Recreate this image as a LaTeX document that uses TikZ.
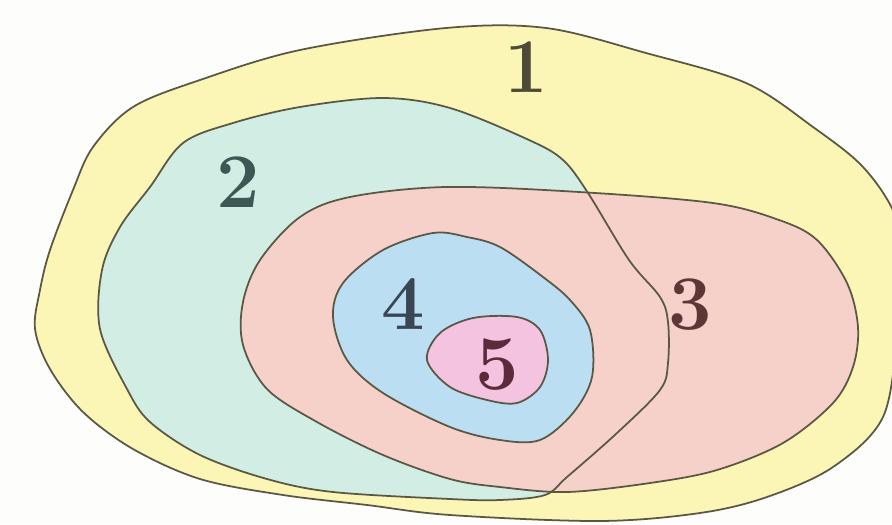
\documentclass[tikz,border=0pt]{standalone}
\usepackage{tikz}

\definecolor{setone}{HTML}{FBF5B6}
\definecolor{settwo}{HTML}{D2EDE3}
\definecolor{setthree}{HTML}{F6D1C9}
\definecolor{setfour}{HTML}{BCDEF2}
\definecolor{setfive}{HTML}{F3C3E0}
\definecolor{rim}{HTML}{5A5744}
\definecolor{paper}{HTML}{FDFDFB}
\definecolor{inkone}{HTML}{4E4A37}
\definecolor{inktwo}{HTML}{3D5754}
\definecolor{inkthree}{HTML}{5E3636}
\definecolor{inkfour}{HTML}{3B4655}
\definecolor{inkfive}{HTML}{5C2A3A}

\begin{document}
\begin{tikzpicture}[x=0.02cm, y=-0.02cm,
    blob/.style={draw=rim, line width=1pt, smooth cycle, tension=0.55},
    num/.style={inner sep=0pt, font=\fontsize{44}{44}\selectfont\bfseries}]

    % Frame (pixel grid of the reference)
    \fill[paper] (0,0) rectangle (892,524);
    \useasboundingbox (0,0) rectangle (892,524);
    \clip (0,0) rectangle (892,524);

    % Set 1 (outer)
    \fill[setone] plot[smooth cycle, tension=0.55] coordinates {(546,28) (646,53) (746,83) (813,127) (863,167) (895,215) (904,270) (898,330) (883,417) (833,467) (767,497) (700,513) (600,521) (450,515) (367,505) (283,495) (200,479) (133,449) (83,412) (50,369) (35,329) (40,290) (50,250) (73,190) (93,147) (133,107) (200,80) (300,50) (446,28)};

    % Set 2
    \fill[settwo] plot[smooth cycle, tension=0.55] coordinates {(383,98) (450,108) (529,140) (563,160) (588,193) (629,260) (660,297) (668,322) (668,363) (660,390) (617,433) (567,477) (545,495) (500,500) (450,499) (333,492) (267,479) (200,455) (150,422) (127,389) (100,329) (102,270) (120,227) (150,187) (183,143) (233,123) (300,107)};

    % Set 3
    \fill[setthree] plot[smooth cycle, tension=0.55] coordinates {(446,187) (579,192) (713,203) (779,220) (817,240) (847,283) (858,327) (853,367) (833,403) (783,443) (717,470) (650,483) (567,492) (500,487) (450,479) (383,455) (317,422) (267,389) (243,345) (243,302) (260,260) (300,217) (350,197)};

    % Outlines of 1, 2, 3
    \draw[blob] plot coordinates {(546,28) (646,53) (746,83) (813,127) (863,167) (895,215) (904,270) (898,330) (883,417) (833,467) (767,497) (700,513) (600,521) (450,515) (367,505) (283,495) (200,479) (133,449) (83,412) (50,369) (35,329) (40,290) (50,250) (73,190) (93,147) (133,107) (200,80) (300,50) (446,28)};
    \draw[blob] plot coordinates {(383,98) (450,108) (529,140) (563,160) (588,193) (629,260) (660,297) (668,322) (668,363) (660,390) (617,433) (567,477) (545,495) (500,500) (450,499) (333,492) (267,479) (200,455) (150,422) (127,389) (100,329) (102,270) (120,227) (150,187) (183,143) (233,123) (300,107)};
    \draw[blob] plot coordinates {(446,187) (579,192) (713,203) (779,220) (817,240) (847,283) (858,327) (853,367) (833,403) (783,443) (717,470) (650,483) (567,492) (500,487) (450,479) (383,455) (317,422) (267,389) (243,345) (243,302) (260,260) (300,217) (350,197)};

    % Set 4
    \filldraw[blob, fill=setfour] plot coordinates {(433,233) (467,237) (500,247) (543,277) (570,300) (590,330) (592,377) (573,413) (540,440) (500,440) (450,427) (383,393) (347,360) (333,317) (343,283) (383,250)};

    % Set 5 (inner)
    \filldraw[blob, fill=setfive] plot coordinates {(473,318) (517,317) (540,330) (548,360) (540,387) (517,403) (487,400) (450,387) (427,360) (440,333)};

    % Labels
    \node[num, text=inkone] (one) at (526,67) {1};
    \node[num, text=inktwo] (two) at (238,182) {2};
    \node[num, text=inkthree] (three) at (690,305) {3};
    \node[num, text=inkfour] (four) at (403,304) {4};
    \node[num, text=inkfive] (five) at (497,365) {5};

  \end{tikzpicture}
\end{document}
